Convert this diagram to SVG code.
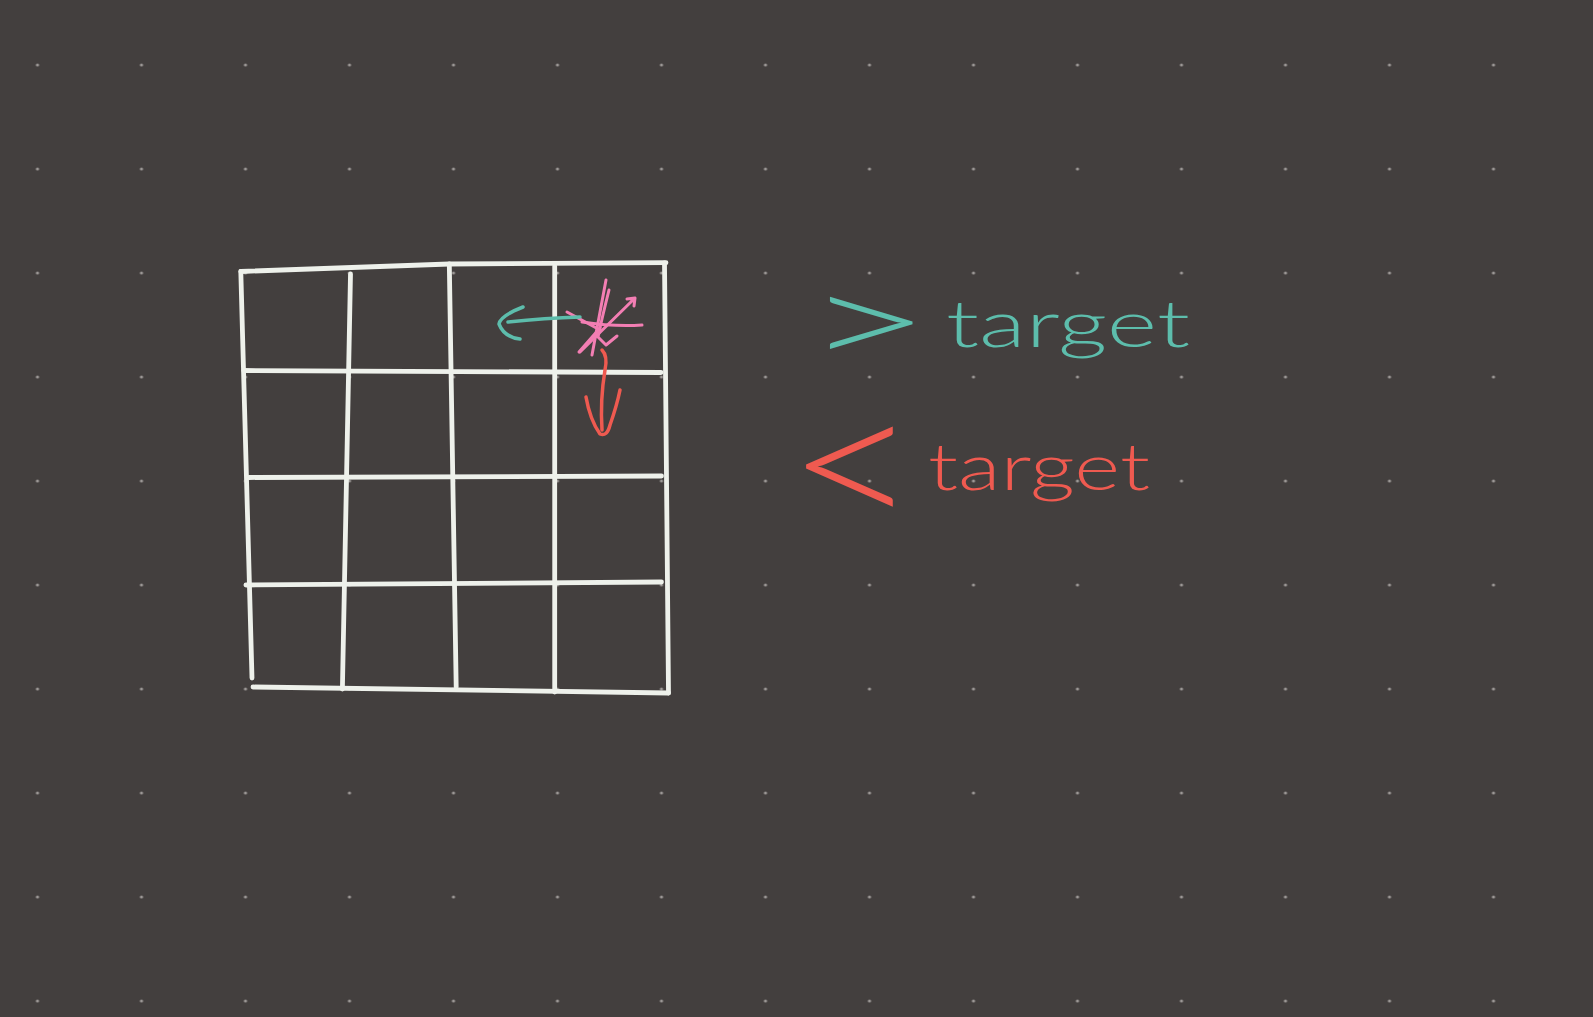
<svg xmlns="http://www.w3.org/2000/svg" width="1593" height="1017" viewBox="0 0 1593 1017">
  <defs>
    <pattern id="dots" patternUnits="userSpaceOnUse" x="-14.5" y="13" width="104" height="104">
      <circle cx="52" cy="52" r="1.6" fill="#9c9896"/>
    </pattern>
    <style>
      .grid { fill: none; stroke: #eef1eb; stroke-width: 4.8; stroke-linecap: round; stroke-linejoin: round; }
      .pink { fill: none; stroke: #f37eb3; stroke-width: 3; stroke-linecap: round; stroke-linejoin: round; }
      .teal { fill: none; stroke: #5dbdac; stroke-width: 3.5; stroke-linecap: round; stroke-linejoin: round; }
      .red { fill: none; stroke: #ef5a50; stroke-width: 3.5; stroke-linecap: round; stroke-linejoin: round; }
      .hand { font-family: Lato, "Liberation Sans", sans-serif; font-weight: 300; }
      .tealtext { fill: #5dbdac; }
      .redtext { fill: #ef5a50; }
    </style>
  </defs>
  <rect width="1593" height="1017" fill="#433f3e"/>
  <rect width="1593" height="1017" fill="url(#dots)"/>

  <g id="grid" class="grid">
    <path d="M240.8,271.5 L449.3,264 L666,262.7"/>
    <path d="M243.8,370.5 L661,372.5"/>
    <path d="M249,477.5 L661.5,476"/>
    <path d="M246,585 L661.5,582"/>
    <path d="M253,687 L668.5,693"/>
    <path d="M240.8,271.5 L252,678"/>
    <path d="M350.5,274 L342.4,689"/>
    <path d="M449.3,264 L456.2,687"/>
    <path d="M554.7,266 L554.7,692"/>
    <path d="M664.5,263 L668.5,693"/>
  </g>

  <g id="cell-marker" class="pink">
    <path d="M606,280 L592,355"/>
    <path d="M609,290 Q602,318 598,337 L606,345 L617,336"/>
    <path d="M567,312 L600,330"/>
    <path d="M582,322 Q615,327 642,325"/>
    <path d="M580,352 L635,298 M627,299 L635,298 L634,306"/>
    <path d="M600,328 L579,352"/>
  </g>

  <g id="connectors">
    <path class="teal" d="M580,317 Q545,318 508,322"/>
    <path class="teal" d="M523,307 Q500,316 499,324 Q504,337 520,339"/>
    <path class="red" d="M602,350 Q608,356 605,370 Q600,400 602,430"/>
    <path class="red" d="M586,397 Q590,420 600,434 Q607,437 610,425 Q617,405 620,390"/>
  </g>

  <g id="label-greater">
    <text class="hand tealtext" font-size="110" transform="translate(828,365.5) scale(2,1.16)" x="-12" y="0">&gt;</text>
    <text class="hand tealtext" font-size="66" x="946" y="347" textLength="244" lengthAdjust="spacingAndGlyphs">target</text>
  </g>

  <g id="label-less">
    <text class="hand redtext" font-size="110" transform="translate(807,533) scale(2.1,1.8)" x="-10" y="0">&lt;</text>
    <text class="hand redtext" font-size="66" x="928" y="490" textLength="222" lengthAdjust="spacingAndGlyphs">target</text>
  </g>
</svg>
